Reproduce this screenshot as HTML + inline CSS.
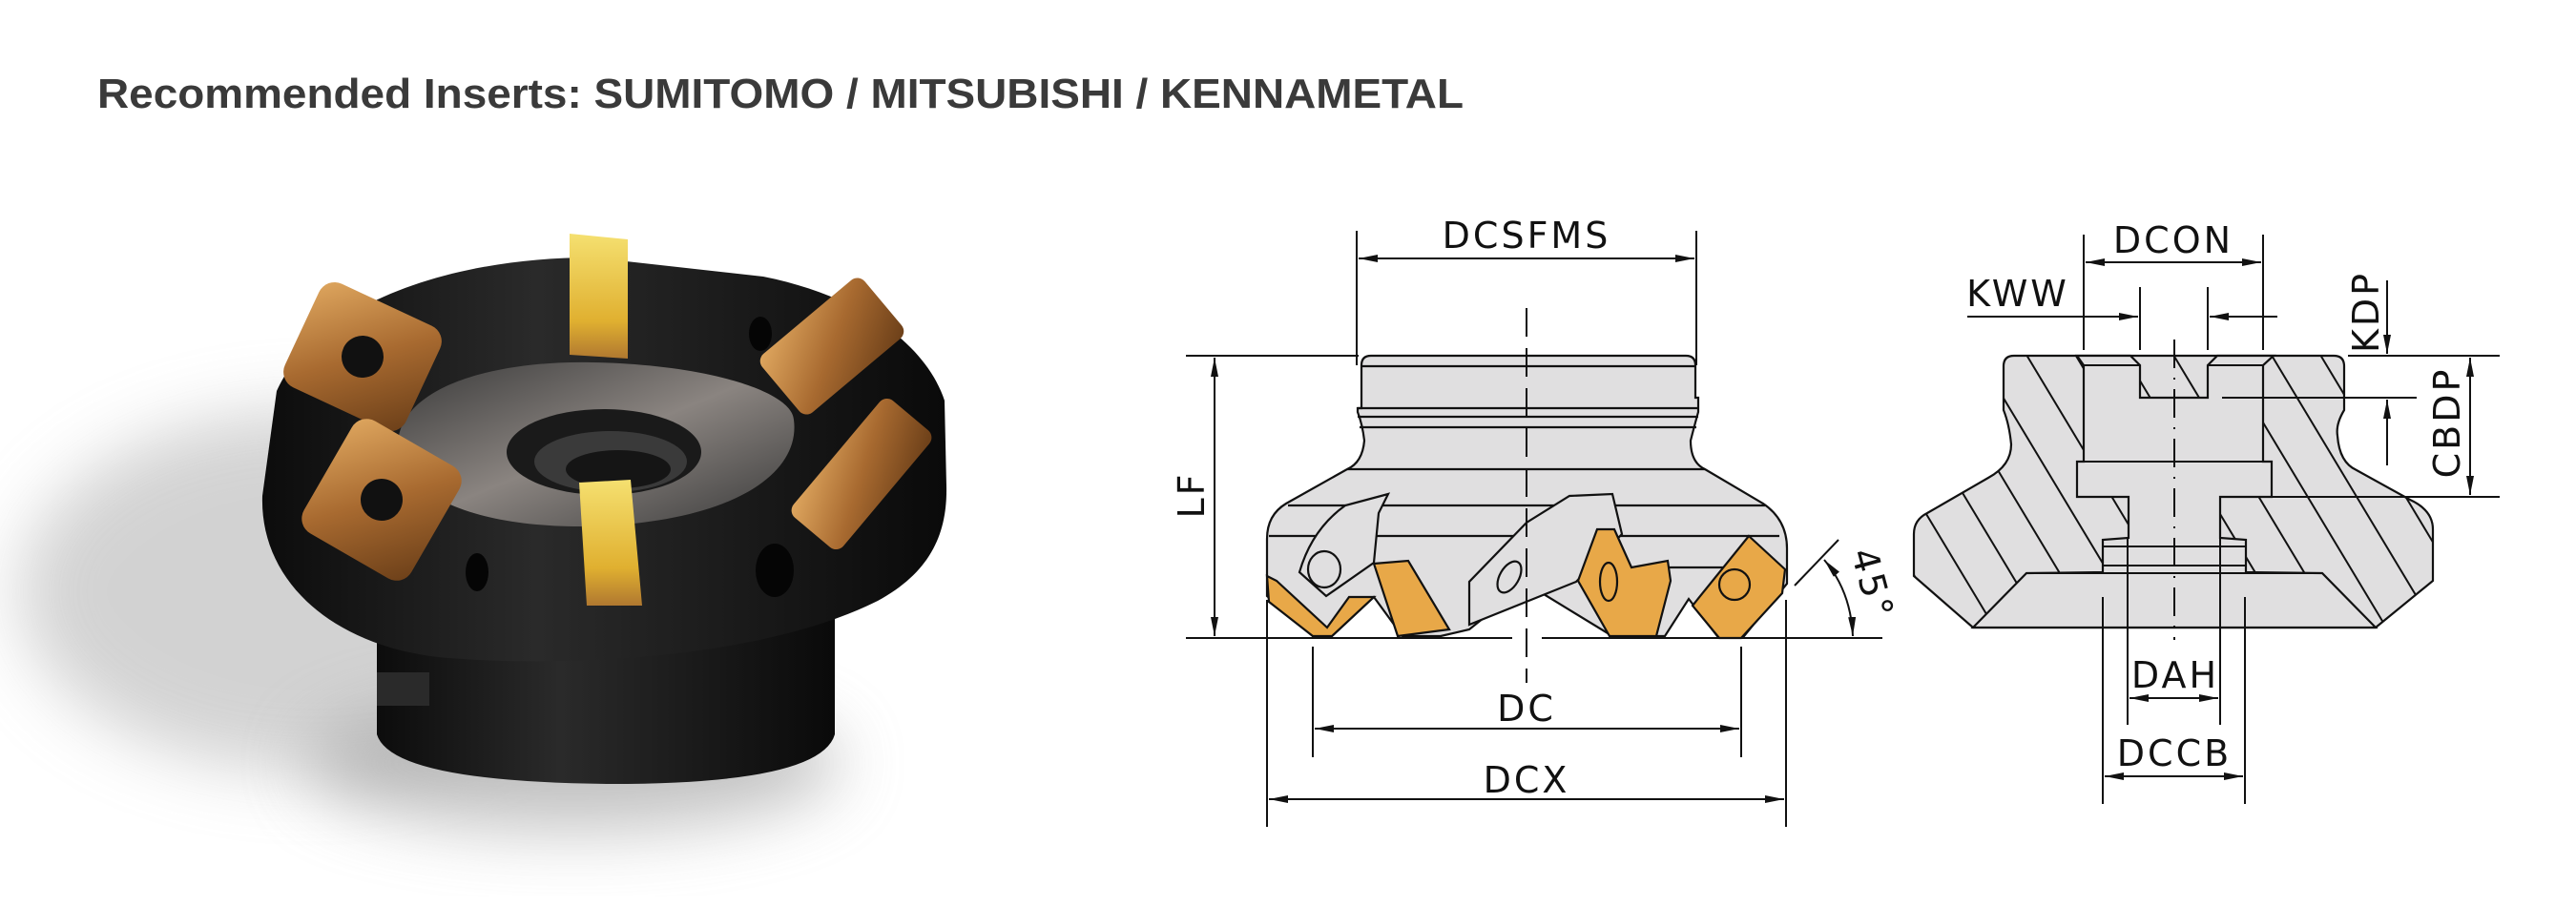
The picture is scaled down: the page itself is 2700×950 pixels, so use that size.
<!DOCTYPE html>
<html><head><meta charset="utf-8"><style>
html,body{margin:0;padding:0;background:#fff;}
svg{display:block;}
.t{font-family:"DejaVu Sans","Liberation Sans",sans-serif;font-size:38px;fill:#111;letter-spacing:3px;}
</style></head><body>
<svg width="2700" height="950" viewBox="0 0 2700 950" xmlns="http://www.w3.org/2000/svg">
<defs>
<marker id="a" viewBox="0 0 20 8" refX="20" refY="4" markerWidth="20" markerHeight="8" markerUnits="userSpaceOnUse" orient="auto-start-reverse"><path d="M0,0 L20,4 L0,8 Z" fill="#111"/></marker>
<pattern id="h" width="44" height="10" patternUnits="userSpaceOnUse" patternTransform="rotate(-31)"><rect width="44" height="10" fill="#e0dfe0"/><line x1="1" y1="0" x2="1" y2="10" stroke="#111" stroke-width="2"/></pattern>
<filter id="bl" x="-50%" y="-50%" width="200%" height="200%"><feGaussianBlur stdDeviation="35"/></filter>
<linearGradient id="gb" x1="0" x2="1"><stop offset="0" stop-color="#0c0c0c"/><stop offset="0.4" stop-color="#2a2a2a"/><stop offset="1" stop-color="#0a0a0a"/></linearGradient>
<linearGradient id="gt" x1="0" y1="0" x2="1" y2="1"><stop offset="0" stop-color="#3a3a3a"/><stop offset="0.5" stop-color="#8a8480"/><stop offset="1" stop-color="#3a3a3a"/></linearGradient>
<linearGradient id="gg" x1="0" y1="0" x2="1" y2="1"><stop offset="0" stop-color="#e0a860"/><stop offset="0.5" stop-color="#a86a30"/><stop offset="1" stop-color="#6a3e18"/></linearGradient>
<linearGradient id="gy" x1="0" y1="0" x2="0" y2="1"><stop offset="0" stop-color="#f5e070"/><stop offset="0.7" stop-color="#e0b030"/><stop offset="1" stop-color="#b07830"/></linearGradient>
</defs>

<text x="102" y="113" font-family="Liberation Sans, sans-serif" font-weight="bold" font-size="44" fill="#3a3a3a" textLength="1432" lengthAdjust="spacingAndGlyphs">Recommended Inserts: SUMITOMO / MITSUBISHI / KENNAMETAL</text>

<!-- Photo -->
<ellipse cx="330" cy="620" rx="310" ry="190" fill="#c8c8c8" filter="url(#bl)" opacity="0.8"/>
<ellipse cx="600" cy="800" rx="280" ry="70" fill="#999" filter="url(#bl)" opacity="0.6"/>
<path d="M395,650 L875,640 L875,770 Q860,822 640,822 Q410,820 395,770 Z" fill="url(#gb)"/>
<path d="M395,705 L450,705 L450,740 L395,740 Z" fill="#2a2a2a"/>
<path d="M275,520 C272,610 350,680 470,690 C600,700 800,690 920,630 C975,600 993,560 992,510 L990,420 C970,360 900,310 800,290 L620,270 C470,270 330,320 290,410 Z" fill="url(#gb)"/>
<path d="M418,457 C430,400 530,378 620,380 C740,382 830,410 832,440 C840,500 760,550 610,552 C480,552 410,510 418,457 Z" fill="url(#gt)"/>
<ellipse cx="633" cy="474" rx="102" ry="45" fill="#1a1a1a"/>
<ellipse cx="640" cy="484" rx="80" ry="32" fill="#3a3a3a"/>
<ellipse cx="648" cy="492" rx="55" ry="20" fill="#151515"/>
<ellipse cx="797" cy="350" rx="12" ry="18" fill="#050505"/>
<ellipse cx="940" cy="470" rx="14" ry="22" fill="#050505"/>
<ellipse cx="812" cy="598" rx="20" ry="28" fill="#050505"/>
<ellipse cx="500" cy="600" rx="12" ry="20" fill="#050505"/>
<polygon points="597,245 658,251 658,376 597,372" fill="url(#gy)"/>
<polygon points="607,506 661,503 673,635 615,635" fill="url(#gy)"/>
<g transform="translate(380,374) rotate(25)"><rect x="-70" y="-60" width="140" height="120" rx="18" fill="url(#gg)"/><circle r="22" fill="#111"/></g>
<g transform="translate(400,524) rotate(30)"><rect x="-65" y="-68" width="130" height="136" rx="18" fill="url(#gg)"/><circle r="22" fill="#111"/></g>
<g transform="translate(872,363) rotate(-40)"><rect x="-70" y="-40" width="140" height="80" rx="10" fill="url(#gg)"/></g>
<g transform="translate(903,497) rotate(-50)"><rect x="-80" y="-34" width="160" height="68" rx="10" fill="url(#gg)"/></g>

<!-- Front view -->
<g stroke="#111" stroke-width="2.2" fill="none">
<path d="M1427,383 Q1427,373 1437,373 L1767,373 Q1777,373 1777,383 L1777,417 L1780,417 L1780,432 Q1775,450 1772,462 Q1772,485 1787,492 L1848,528 Q1873,545 1873,575 L1873,612 L1828,667 L1800,667 L1770,628 L1745,667 L1690,667 L1600,612 L1540,660 L1510,667 L1470,667 L1440,626 L1396,667 L1376,667 L1328,625 L1328,565 Q1328,540 1348,528 L1412,492 Q1428,485 1430,462 Q1428,445 1423,432 L1423,428 L1427,428 L1427,417 Z" fill="#e0dfe0"/>
<line x1="1427" y1="384" x2="1777" y2="384"/>
<line x1="1423" y1="428" x2="1780" y2="428"/>
<line x1="1423" y1="437" x2="1780" y2="437"/>
<line x1="1425" y1="448" x2="1778" y2="448"/>
<line x1="1412" y1="492" x2="1787" y2="492"/>
<line x1="1350" y1="530" x2="1850" y2="530"/>
<line x1="1330" y1="562" x2="1865" y2="562"/>
<line x1="1560" y1="595" x2="1810" y2="595"/>
<path d="M1362,600 Q1375,555 1410,530 L1455,518 L1445,538 L1440,590 L1390,625 Z" fill="#e0dfe0"/>
<ellipse cx="1388" cy="597" rx="17" ry="19"/>
<path d="M1540,655 L1540,610 L1600,548 L1645,520 L1690,518 L1700,560 L1652,610 Z" fill="#e0dfe0"/>
<ellipse cx="1582" cy="605" rx="10" ry="18" transform="rotate(30 1582 605)"/>
<polygon points="1328,604 1330,631 1376,667 1396,667 1440,626 1414,626 1391,658 1338,609" fill="#e8a848"/>
<polygon points="1440,591 1476,588 1519,660 1465,667" fill="#e8a848"/>
<polygon points="1674,555 1692,555 1710,595 1748,588 1751,609 1736,667 1687,667 1654,609" fill="#e8a848"/>
<polygon points="1833,562 1871,597 1868,622 1825,669 1802,669 1774,635" fill="#e8a848"/>
<ellipse cx="1686" cy="610" rx="9" ry="20"/>
<circle cx="1818" cy="613" r="16"/>
</g>
<g stroke="#111" stroke-width="2" fill="none">
<line x1="1600" y1="323" x2="1600" y2="716" stroke-dasharray="30,12"/>
<line x1="1243" y1="373" x2="1424" y2="373"/>
<line x1="1243" y1="669" x2="1585" y2="669"/>
<line x1="1616" y1="669" x2="1973" y2="669"/>
<line x1="1273" y1="375" x2="1273" y2="667" marker-start="url(#a)" marker-end="url(#a)"/>
<line x1="1422" y1="242" x2="1422" y2="383"/>
<line x1="1778" y1="242" x2="1778" y2="383"/>
<line x1="1424" y1="271" x2="1776" y2="271" marker-start="url(#a)" marker-end="url(#a)"/>
<line x1="1376" y1="678" x2="1376" y2="794"/>
<line x1="1825" y1="678" x2="1825" y2="794"/>
<line x1="1378" y1="764" x2="1823" y2="764" marker-start="url(#a)" marker-end="url(#a)"/>
<line x1="1328" y1="629" x2="1328" y2="867"/>
<line x1="1872" y1="629" x2="1872" y2="867"/>
<line x1="1330" y1="838" x2="1870" y2="838" marker-start="url(#a)" marker-end="url(#a)"/>
<line x1="1881" y1="614" x2="1927" y2="566"/>
<path d="M1912,587 Q1940,620 1942,667" marker-start="url(#a)" marker-end="url(#a)"/>
</g>
<text class="t" x="1600" y="260" text-anchor="middle">DCSFMS</text>
<text class="t" x="1600" y="756" text-anchor="middle">DC</text>
<text class="t" x="1600" y="831" text-anchor="middle">DCX</text>
<text class="t" transform="translate(1262,519) rotate(-90)" text-anchor="middle">LF</text>
<text class="t" transform="translate(1950,616) rotate(75)" text-anchor="middle" letter-spacing="1">45°</text>

<!-- Section view -->
<g stroke="#111" stroke-width="2.2">
<path d="M2100,384 Q2100,373 2111,373 L2446,373 Q2457,373 2457,384 L2457,430 Q2448,445 2450,457 Q2452,485 2470,493 L2526,524 Q2550,535 2550,555 L2550,609 L2490,658 L2068,658 L2006,604 L2006,560 Q2006,545 2020,538 L2084,501 Q2108,488 2108,466 Q2106,445 2100,430 Z" fill="url(#h)"/>
<path d="M2177,373 L2233,373 L2243,383 L2243,417 L2314,417 L2314,383 L2324,373 L2383,373 L2372,383 L2372,484 L2381,484 L2381,521 L2327,521 L2327,564 L2354,566 L2354,600 L2434,601 L2490,658 L2068,658 L2124,601 L2204,600 L2204,566 L2231,564 L2231,521 L2177,521 L2177,484 L2184,484 L2184,383 Z" fill="#e0dfe0"/>
</g>
<g stroke="#111" stroke-width="2" fill="none">
<line x1="2184" y1="383" x2="2243" y2="383"/>
<line x1="2314" y1="383" x2="2372" y2="383"/>
<line x1="2177" y1="484" x2="2381" y2="484"/>
<line x1="2204" y1="573" x2="2354" y2="573"/>
<line x1="2204" y1="593" x2="2354" y2="593"/>
<line x1="2124" y1="601" x2="2434" y2="601"/>
<line x1="2279" y1="356" x2="2279" y2="671" stroke-dasharray="30,10,2,10"/>
<line x1="2184" y1="246" x2="2184" y2="367"/>
<line x1="2372" y1="246" x2="2372" y2="367"/>
<line x1="2186" y1="275" x2="2370" y2="275" marker-start="url(#a)" marker-end="url(#a)"/>
<line x1="2243" y1="301" x2="2243" y2="367"/>
<line x1="2314" y1="301" x2="2314" y2="367"/>
<line x1="2062" y1="332" x2="2241" y2="332" marker-end="url(#a)"/>
<line x1="2387" y1="332" x2="2316" y2="332" marker-end="url(#a)"/>
<line x1="2461" y1="373" x2="2620" y2="373"/>
<line x1="2329" y1="417" x2="2533" y2="417"/>
<line x1="2381" y1="521" x2="2620" y2="521"/>
<line x1="2502" y1="294" x2="2502" y2="371" marker-end="url(#a)"/>
<line x1="2502" y1="488" x2="2502" y2="419" marker-end="url(#a)"/>
<line x1="2589" y1="375" x2="2589" y2="519" marker-start="url(#a)" marker-end="url(#a)"/>
<line x1="2230" y1="564" x2="2230" y2="760"/>
<line x1="2327" y1="564" x2="2327" y2="760"/>
<line x1="2232" y1="732" x2="2325" y2="732" marker-start="url(#a)" marker-end="url(#a)"/>
<line x1="2204" y1="626" x2="2204" y2="843"/>
<line x1="2353" y1="626" x2="2353" y2="843"/>
<line x1="2206" y1="814" x2="2351" y2="814" marker-start="url(#a)" marker-end="url(#a)"/>
</g>
<text class="t" x="2278" y="265" text-anchor="middle">DCON</text>
<text class="t" x="2115" y="321" text-anchor="middle">KWW</text>
<text class="t" x="2280" y="721" text-anchor="middle">DAH</text>
<text class="t" x="2279" y="803" text-anchor="middle">DCCB</text>
<text class="t" transform="translate(2493,327) rotate(-90)" text-anchor="middle">KDP</text>
<text class="t" transform="translate(2578,443) rotate(-90)" text-anchor="middle">CBDP</text>
</svg>
</body></html>
